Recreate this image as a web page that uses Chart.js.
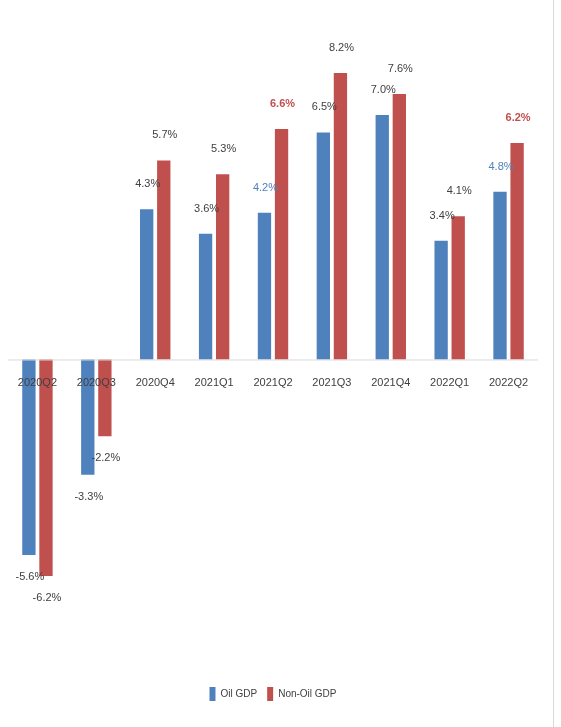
<!DOCTYPE html>
<html><head><meta charset="utf-8">
<script src="https://cdn.jsdelivr.net/npm/chart.js@4"></script>
<style>html,body{margin:0;padding:0;background:#fff}#w{width:561px;height:727px}</style>
</head><body><div id="w"><canvas id="c"></canvas></div>
<script>
const categories = ["2020Q2","2020Q3","2020Q4","2021Q1","2021Q2","2021Q3","2021Q4","2022Q1","2022Q2"];
const oilGDP = [-5.6,-3.3,4.3,3.6,4.2,6.5,7.0,3.4,4.8];
const nonOilGDP = [-6.2,-2.2,5.7,5.3,6.6,8.2,7.6,4.1,6.2];
const oilHighlight = [false,false,false,false,true,false,false,false,true];
const nonOilHighlight = [false,false,false,false,true,false,false,false,true];

const labelsPlugin = {
  id:'lbl',
  afterDatasetsDraw(chart){
    const ctx = chart.ctx, y = chart.scales.y, x = chart.scales.x;
    const zero = y.getPixelForValue(0);
    ctx.save();
    ctx.strokeStyle = '#d9d9d9'; ctx.lineWidth = 1;
    ctx.beginPath(); ctx.moveTo(chart.chartArea.left, zero+0.5); ctx.lineTo(chart.chartArea.right, zero+0.5); ctx.stroke();
    ctx.beginPath(); ctx.moveTo(553.5, 0); ctx.lineTo(553.5, 727); ctx.stroke();
    ctx.textAlign = 'center'; ctx.textBaseline = 'middle';
    ctx.font = '11px "Liberation Sans"'; ctx.fillStyle = '#404040';
    categories.forEach((c,i)=>{ ctx.fillText(c, x.getPixelForValue(i), zero+23); });
    const hl = [oilHighlight, nonOilHighlight];
    const hc = ['#4F81BD','#C0504D'];
    chart.data.datasets.forEach((ds,di)=>{
      chart.getDatasetMeta(di).data.forEach((bar,i)=>{
        const v = ds.data[i];
        const h = hl[di][i];
        ctx.font = (h && di===1 ? 'bold ' : '') + '11px "Liberation Sans"';
        ctx.fillStyle = h ? hc[di] : '#404040';
        const yy = v >= 0 ? bar.y - 25 : bar.y + 22;
        ctx.fillText(v.toFixed(1)+'%', bar.x + 1, yy);
      });
    });
    ctx.restore();
  }
};

new Chart(document.getElementById('c'), {
  type:'bar',
  data:{ labels:categories, datasets:[
    {label:'Oil GDP', data:oilGDP, backgroundColor:'#4F81BD', categoryPercentage:0.58, barPercentage:0.78},
    {label:'Non-Oil GDP', data:nonOilGDP, backgroundColor:'#C0504D', categoryPercentage:0.58, barPercentage:0.78}
  ]},
  options:{
    responsive:true, maintainAspectRatio:false, animation:false,
    layout:{padding:{left:8,right:23,top:28,bottom:16}},
    scales:{
      x:{display:false},
      y:{display:false, min:-9.09, max:9.49}
    },
    plugins:{
      tooltip:{enabled:false},
      legend:{position:'bottom', labels:{boxWidth:6, boxHeight:14, padding:10, color:'#404040', font:{family:'Liberation Sans', size:10}}}
    }
  },
  plugins:[labelsPlugin]
});
</script></body></html>
